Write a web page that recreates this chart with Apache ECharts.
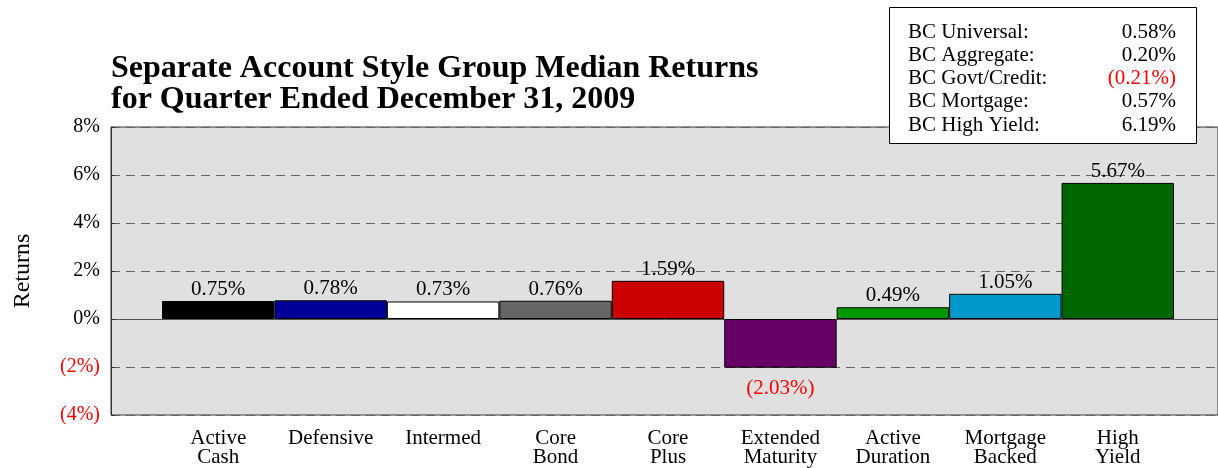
<!doctype html>
<html>
<head>
    <meta charset="utf-8">
    <title>Separate Account Style Group Median Returns</title>
    <script src="https://cdn.jsdelivr.net/npm/echarts@6/dist/echarts.min.js"></script>
    <style>
        html, body {
            margin: 0;
            padding: 0;
            background: #fff;
        }

        #main {
            width: 1218px;
            height: 468px;
        }
    </style>
</head>
<body>
    <div id="main"></div>
    <script type="text/javascript">
        // style groups and their median returns (%)
        var categories = ['Active\nCash', 'Defensive', 'Intermed', 'Core\nBond', 'Core\nPlus',
            'Extended\nMaturity', 'Active\nDuration', 'Mortgage\nBacked', 'High\nYield'];
        var returns = [0.75, 0.78, 0.73, 0.76, 1.59, -2.03, 0.49, 1.05, 5.67];
        var barColors = ['#000000', '#000099', '#ffffff', '#666666', '#cc0000',
            '#660066', '#009900', '#0099cc', '#006600'];

        // benchmark box
        var benchNames = ['BC Universal:', 'BC Aggregate:', 'BC Govt/Credit:', 'BC Mortgage:', 'BC High Yield:'];
        var benchValues = [0.58, 0.20, -0.21, 0.57, 6.19];

        var serif = '"Liberation Serif", "DejaVu Serif", serif';

        function pct(v, digits) {
            var s = Math.abs(v).toFixed(digits) + '%';
            return v < 0 ? '(' + s + ')' : s;
        }

        var myChart = echarts.init(document.getElementById('main'));

        var boxLeft = 889, boxTop = 7, rowH = 23.3;
        var graphics = [{
            type: 'rect',
            z: 100,
            shape: { x: boxLeft + 0.5, y: boxTop + 0.5, width: 307, height: 136 },
            style: { fill: '#fff', stroke: '#000', lineWidth: 1 }
        }];
        benchNames.forEach(function (name, i) {
            var y = boxTop + 25 + i * rowH;
            graphics.push({
                type: 'text', z: 101, x: boxLeft + 19, y: y,
                style: { text: name, font: '21px ' + serif, fill: '#000', verticalAlign: 'middle' }
            });
            graphics.push({
                type: 'text', z: 101, x: boxLeft + 287, y: y,
                style: {
                    text: pct(benchValues[i], 2), font: '21px ' + serif,
                    fill: benchValues[i] < 0 ? '#ff0000' : '#000',
                    align: 'right', verticalAlign: 'middle'
                }
            });
        });

        var option = {
            animation: false,
            textStyle: { fontFamily: serif },
            title: {
                text: 'Separate Account Style Group Median Returns\nfor Quarter Ended December 31, 2009',
                left: 111,
                top: 53,
                padding: 0,
                textStyle: {
                    fontFamily: serif, fontSize: 32, fontWeight: 'bold', color: '#000', lineHeight: 31
                }
            },
            graphic: graphics,
            grid: [
                { left: 111, top: 127, width: 1140, height: 288, show: true,
                  backgroundColor: '#e0e0e0', borderColor: '#333', borderWidth: 1 },
                { left: 162, top: 127, width: 1012, height: 288 }
            ],
            xAxis: [
                {
                    gridIndex: 0, type: 'value', min: 0, max: 1,
                    axisLine: { show: true, onZero: true, lineStyle: { color: '#555', width: 1 } },
                    axisTick: { show: false }, axisLabel: { show: false }, splitLine: { show: false }
                },
                {
                    gridIndex: 1, type: 'category', data: categories,
                    axisLine: { show: false }, axisTick: { show: false },
                    axisLabel: { color: '#000', fontSize: 21, lineHeight: 19, margin: 14, fontFamily: serif, interval: 0 }
                }
            ],
            yAxis: [
                {
                    gridIndex: 0, type: 'value', min: -4, max: 8, interval: 2,
                    name: 'Returns', nameLocation: 'middle', nameGap: 76, nameRotate: 90,
                    nameTextStyle: { fontSize: 24, color: '#000', fontFamily: serif },
                    axisLine: { show: true, lineStyle: { color: '#333' } },
                    axisTick: { show: true, inside: true, length: 4, lineStyle: { color: '#333' } },
                    axisLabel: {
                        margin: 11, fontSize: 20, fontFamily: serif,
                        formatter: function (v) {
                            return v < 0 ? '{neg|' + pct(v, 0) + '}' : pct(v, 0);
                        },
                        color: '#000',
                        rich: { neg: { color: '#ff0000', fontSize: 20, fontFamily: serif } }
                    },
                    splitLine: { show: true, lineStyle: { color: '#666', type: [9, 6], width: 1 } }
                },
                {
                    gridIndex: 1, type: 'value', min: -4, max: 8, interval: 2, show: false,
                    splitLine: { show: false }
                }
            ],
            series: [{
                type: 'bar',
                xAxisIndex: 1,
                yAxisIndex: 1,
                barCategoryGap: '0%',
                data: returns.map(function (v, i) {
                    return {
                        value: v,
                        itemStyle: { color: barColors[i] },
                        label: {
                            position: v < 0 ? 'bottom' : 'top',
                            color: v < 0 ? '#ff0000' : '#000',
                            distance: v < 0 ? 10 : 1
                        }
                    };
                }),
                itemStyle: { borderColor: '#000', borderWidth: 1 },
                label: {
                    show: true, fontSize: 21, fontFamily: serif,
                    formatter: function (p) { return pct(p.value, 2); }
                }
            }]
        };

        myChart.setOption(option);
    </script>
</body>
</html>
